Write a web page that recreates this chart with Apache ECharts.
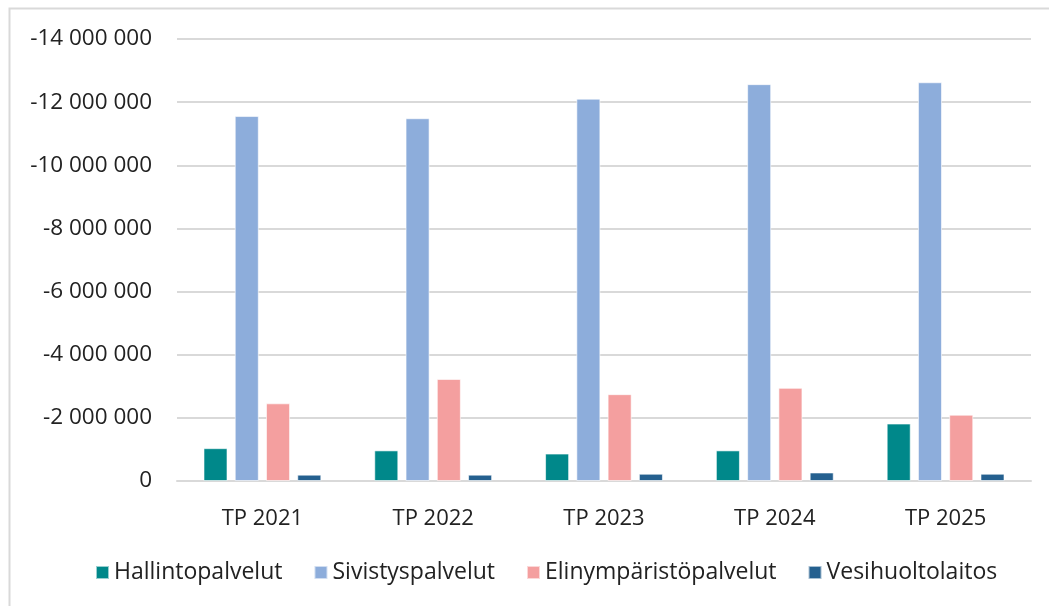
<!DOCTYPE html>
<html>
<head>
<meta charset="utf-8">
<script src="https://cdn.jsdelivr.net/npm/echarts@6/dist/echarts.min.js"></script>
<style>
  html, body { margin: 0; padding: 0; background: #fff; }
  #chart { width: 1049px; height: 606px; }
</style>
</head>
<body>
<div id="chart"></div>
<script>
// vuodet
const categories = ['TP 2021', 'TP 2022', 'TP 2023', 'TP 2024', 'TP 2025'];
// toimialojen luvut (negatiivisia)
const hallintopalvelut = [-1040000, -970000, -870000, -970000, -1820000];
const sivistyspalvelut = [-11560000, -11490000, -12110000, -12570000, -12630000];
const elinymparistopalvelut = [-2460000, -3230000, -2750000, -2950000, -2100000];
const vesihuoltolaitos = [-200000, -200000, -230000, -270000, -230000];
const seriesNames = ['Hallintopalvelut', 'Sivistyspalvelut', 'Elinympäristöpalvelut', 'Vesihuoltolaitos'];

const fontFamily = '"Open Sans", "Noto Sans", sans-serif';

const chart = echarts.init(document.getElementById('chart'), null, { renderer: 'canvas' });

function fmt(v) {
    const s = Math.abs(v).toString().replace(/\B(?=(\d{3})+(?!\d))/g, ' ');
    return v < 0 ? '-' + s : s;
}

function barSeries(name, data) {
    return {
        name: name,
        type: 'bar',
        data: data,
        barGap: '30%',
        barCategoryGap: '31%',
        itemStyle: {
            borderColor: 'rgba(255,255,255,0.6)',
            borderWidth: 1
        }
    };
}

chart.setOption({
    animation: false,
    textStyle: { fontFamily: fontFamily },
    color: ['#00888A', '#8DADDB', '#F49F9F', '#25608F'],
    graphic: [{
        type: 'rect',
        shape: { x: 9.5, y: 8.5, width: 1100, height: 700 },
        style: { fill: 'none', stroke: '#d9d9d9', lineWidth: 2 },
        silent: true
    }],
    grid: {
        left: 177,
        right: 18,
        top: 39,
        bottom: 125
    },
    legend: {
        bottom: 17,
        left: 90,
        itemWidth: 13,
        itemHeight: 13,
        itemGap: 31,
        icon: 'rect',
        textStyle: { fontSize: 23, color: '#222', fontFamily: fontFamily },
        data: seriesNames
    },
    xAxis: {
        type: 'category',
        data: categories,
        axisLine: { show: true, lineStyle: { color: '#d9d9d9', width: 2 } },
        axisTick: { show: false },
        axisLabel: { fontSize: 22, color: '#222', margin: 27, fontFamily: fontFamily }
    },
    yAxis: {
        type: 'value',
        inverse: true,
        min: -14000000,
        max: 0,
        interval: 2000000,
        axisLine: { show: false },
        axisTick: { show: false },
        splitLine: { lineStyle: { color: '#d9d9d9', width: 2 } },
        axisLabel: {
            fontSize: 22.5,
            color: '#222',
            margin: 25,
            fontFamily: fontFamily,
            formatter: fmt
        }
    },
    series: [
        barSeries(seriesNames[0], hallintopalvelut),
        barSeries(seriesNames[1], sivistyspalvelut),
        barSeries(seriesNames[2], elinymparistopalvelut),
        barSeries(seriesNames[3], vesihuoltolaitos)
    ]
});
</script>
</body>
</html>
